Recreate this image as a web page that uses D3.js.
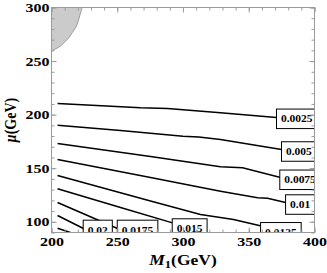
<!DOCTYPE html>
<html>
<head>
<meta charset="utf-8">
<script src="https://cdn.jsdelivr.net/npm/d3@7"></script>
<style>
  body { margin: 0; background: #fff; }
  svg { display: block; }
  text { font-family: "Liberation Serif", "Times New Roman", serif; font-weight: bold; }
</style>
</head>
<body>
<div id="chart"></div>
<script>
const W = 327, H = 273;
const margin = {top: 7.5, right: 13, bottom: 40, left: 51.5},
    width = 263,
    height = 225;

//--------------------------- DATA (M1 in GeV, mu in GeV)
const levels = ["0.0025", "0.005", "0.0075", "0.01", "0.0125", "0.015", "0.0175", "0.02", "0.0225"];

const c0025 = [[204.6,210.4],[267.7,206.4],[288.2,205.7],[328.5,201.7],[371.1,197.3],[400,194.5]];
const c005  = [[204.6,190.1],[252.5,185.2],[300.0,179.8],[312.0,179.2],[328.5,176.8],[374.9,167.5],[400,163.7]];
const c0075 = [[204.6,173.1],[275.3,160.9],[328.5,151.3],[345.3,150.4],[374.2,141.3],[400,136.7]];
const c01   = [[204.6,158.1],[275.3,141.3],[328.5,128.6],[356.7,122.4],[364.3,122.0],[378.0,118.0],[400,114.3]];
const c0125 = [[204.6,143.2],[275.3,119.4],[313.3,106.8],[338.4,102.1],[361.2,95.6],[381.8,89.3]];
const c015  = [[204.6,130.8],[252.5,113.3],[292.0,99.0],[313.3,90.0],[317.1,89.3]];
const c0175 = [[204.6,118.0],[250.2,93.7],[258.6,89.3]];
const c02   = [[204.6,105.9],[224.3,93.7],[231.9,89.3]];
const c0225 = [[204.6,94.0],[216.0,89.3]];
const contours = [c0025, c005, c0075, c01, c0125, c015, c0175, c02, c0225];

// where each label box starts (left-middle), null = no label
const labelAt = [[371.1,196.1],[374.9,165.6],[373.6,139.2],[378.0,116.1],[359.0,90.2],[291.8,93.7],[250.0,92.4],[224.1,92.4], null];

// excluded region, top-left corner
const excluded = [[200,300],[200,259.2],[206.8,263.9],[213.2,271.7],[215.7,276.4],[218.3,281.1],[220.0,285.7],[222.1,295.1],[223.4,300]];

const xMajor = [200, 250, 300, 350, 400];
const yMajor = [100, 150, 200, 250, 300];

//--------------------------- SVG
const svg = d3.select("#chart").append("svg")
    .attr("width", W).attr("height", H);

const g = svg.append("g")
    .attr("transform", `translate(${margin.left}, ${margin.top})`);

const x = d3.scaleLinear().domain([200, 400]).range([0, width]);
const y = d3.scaleLinear().domain([90, 300]).range([height, 0]);

svg.append("defs").append("clipPath").attr("id", "plot-clip")
  .append("rect").attr("width", width).attr("height", height);

const plot = g.append("g").attr("clip-path", "url(#plot-clip)");

const line = d3.line().x(d => x(d[0])).y(d => y(d[1]));

// shaded region
plot.append("path")
    .attr("d", line(excluded) + "Z")
    .attr("fill", "#cbcbcb")
    .attr("stroke", "#8a8a8a")
    .attr("stroke-width", 0.8);

// contour lines
plot.selectAll("path.contour")
  .data(contours)
  .join("path")
    .attr("class", "contour")
    .attr("d", d => line(d))
    .attr("fill", "none")
    .attr("stroke", "#000")
    .attr("stroke-width", 1.5);

// contour labels
const lsx = 1.15; // text in the picture is horizontally stretched
levels.forEach((lv, i) => {
  const at = labelAt[i];
  if (!at) return;
  const lg = plot.append("g")
      .attr("transform", `translate(${x(at[0])}, ${y(at[1])})`);
  const box = lg.append("rect");
  const t = lg.append("text")
      .attr("transform", `scale(${lsx},1)`)
      .attr("x", 4.5 / lsx)
      .attr("dy", "0.36em")
      .attr("font-size", 10)
      .text(lv);
  const tw = t.node().getComputedTextLength() * lsx;
  box.attr("x", 0).attr("y", -9.75)
     .attr("width", tw + 9).attr("height", 19.5)
     .attr("fill", "#fff")
     .attr("stroke", "#000")
     .attr("stroke-width", 1);
});

//--------------------------- AXES / FRAME
const tickCol = "#9a9a9a";
const sx = 1.23;

function styleAxis(sel) {
  sel.select(".domain").remove();
  sel.selectAll(".tick line").attr("stroke", tickCol);
  sel.selectAll(".tick text")
     .attr("fill", "#000")
     .attr("font-size", 13)
     .attr("font-family", null);
}

// minor ticks on all four sides
g.append("g").attr("transform", `translate(0,${height})`)
  .call(d3.axisBottom(x).ticks(20).tickSize(-3).tickFormat("")).call(styleAxis);
g.append("g")
  .call(d3.axisTop(x).ticks(20).tickSize(-3).tickFormat("")).call(styleAxis);
g.append("g")
  .call(d3.axisLeft(y).ticks(21).tickSize(-3).tickFormat("")).call(styleAxis);
g.append("g").attr("transform", `translate(${width},0)`)
  .call(d3.axisRight(y).ticks(21).tickSize(-3).tickFormat("")).call(styleAxis);

// major ticks
const xAxis = g.append("g").attr("transform", `translate(0,${height})`)
  .call(d3.axisBottom(x).tickValues(xMajor).tickSizeInner(-5).tickSizeOuter(0).tickPadding(4))
  .call(styleAxis);
g.append("g")
  .call(d3.axisTop(x).tickValues(xMajor).tickSize(-5).tickFormat("")).call(styleAxis);
const yAxis = g.append("g")
  .call(d3.axisLeft(y).tickValues(yMajor).tickSizeInner(-5).tickSizeOuter(0).tickPadding(3))
  .call(styleAxis);
g.append("g").attr("transform", `translate(${width},0)`)
  .call(d3.axisRight(y).tickValues(yMajor).tickSize(-5).tickFormat("")).call(styleAxis);

// stretch tick labels like the picture
xAxis.selectAll(".tick text")
  .attr("transform", `scale(${sx},1)`)
  .attr("x", 0);
yAxis.selectAll(".tick text")
  .attr("transform", `scale(${sx},1)`)
  .attr("x", -2 / sx);

// frame
g.append("rect")
    .attr("width", width).attr("height", height)
    .attr("fill", "none")
    .attr("stroke", tickCol)
    .attr("stroke-width", 1);

//--------------------------- TITLES
const xt = svg.append("text")
    .attr("transform", `translate(${margin.left + width / 2}, 265) scale(1.25,1)`)
    .attr("text-anchor", "middle")
    .attr("font-size", 14);
xt.append("tspan").attr("font-style", "italic").text("M");
xt.append("tspan").attr("font-size", 10).attr("dy", 3).text("1");
xt.append("tspan").attr("dy", -3).text("(GeV)");

const yt = svg.append("text")
    .attr("transform", "translate(16, 120) rotate(-90) scale(1,1.25)")
    .attr("text-anchor", "middle")
    .attr("font-size", 14);
yt.append("tspan").attr("font-style", "italic").text("μ");
yt.append("tspan").text("(GeV)");
</script>
</body>
</html>
